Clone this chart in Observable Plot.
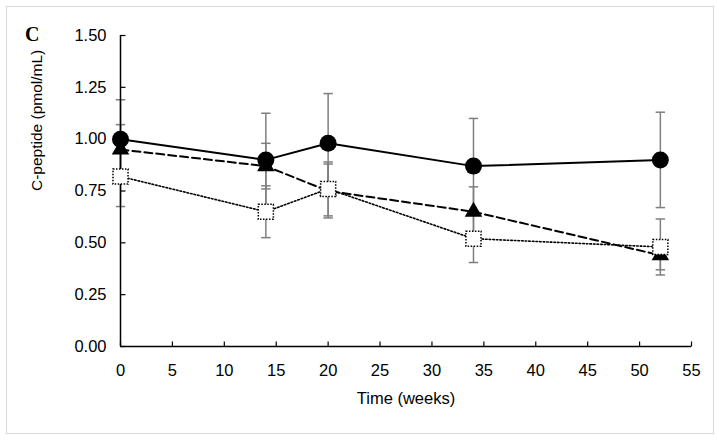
<!DOCTYPE html>
<html>
<head>
<meta charset="utf-8">
<script src="https://cdn.jsdelivr.net/npm/d3@7"></script>
<script src="https://cdn.jsdelivr.net/npm/@observablehq/plot@0.6"></script>
<style>
  html, body { margin: 0; padding: 0; background: #fff; }
  #wrap { position: relative; width: 719px; height: 441px; overflow: hidden; }
  #border { position: absolute; left: 6px; top: 6px; width: 706px; height: 426px; border: 1.5px solid #d9d9d9; box-sizing: content-box; }
  #panel { position: absolute; left: 25px; top: 23px; font-family: "Liberation Serif", "DejaVu Serif", serif; font-weight: bold; font-size: 20px; }
  #chart { position: absolute; left: 0; top: 0; }
</style>
</head>
<body>
<div id="wrap">
  <div id="border"></div>
  <div id="chart"></div>
  <div id="panel">C</div>
</div>
<script>
// ---- data ----
const weeks = [0, 14, 20, 34, 52];
const circleMean = [1.00, 0.90, 0.98, 0.87, 0.90];
const circleErr  = [0.19, 0.225, 0.24, 0.23, 0.23];
const triMean    = [0.95, 0.87, 0.75, 0.65, 0.44];
const triErr     = [0.12, 0.11, 0.13, 0.12, 0.07];
const sqMean     = [0.82, 0.65, 0.76, 0.52, 0.48];
const sqErr      = [0.145, 0.125, 0.13, 0.115, 0.135];
const xTicks = [0, 5, 10, 15, 20, 25, 30, 35, 40, 45, 50, 55];
const yTicks = [0, 0.25, 0.5, 0.75, 1.0, 1.25, 1.5];

const mk = (means, errs, s) => weeks.map((w, i) => ({week: w, mean: means[i], lo: means[i] - errs[i], hi: means[i] + errs[i], s}));
const tri = mk(triMean, triErr, "tri");
const sq = mk(sqMean, sqErr, "sq");
const circ = mk(circleMean, circleErr, "circ");
const all = [...tri, ...sq, ...circ];

// custom symbols (pixel-sized)
const capSymbol = { draw(ctx) { ctx.moveTo(-4.7, 0); ctx.lineTo(4.7, 0); } };
const yTickSymbol = { draw(ctx) { ctx.moveTo(0, 0); ctx.lineTo(5, 0); } };
const xTickSymbol = { draw(ctx) { ctx.moveTo(0, 0); ctx.lineTo(0, -5); } };

const errColor = "#7f7f7f";

const chart = Plot.plot({
  width: 719,
  height: 441,
  marginLeft: 120,
  marginRight: 28,
  marginTop: 35,
  marginBottom: 95,
  style: { fontFamily: "Liberation Sans, Arial, sans-serif", fontSize: "16px", color: "#000", background: "transparent" },
  x: { domain: [0, 55], ticks: xTicks, label: null },
  y: { domain: [0, 1.5], ticks: yTicks, label: null },
  marks: [
    // axes
    Plot.axisY(yTicks, { tickSize: 0, tickPadding: 14, tickFormat: d3.format(".2f"), fontSize: 16.5 }),
    Plot.axisX(xTicks, { tickSize: 0, tickPadding: 18, fontSize: 16.5 }),
    Plot.text(["C-peptide (pmol/mL)"], { frameAnchor: "left", dx: -83, rotate: -90, fontSize: 15.5 }),
    Plot.text(["Time (weeks)"], { frameAnchor: "bottom", dy: 57, fontSize: 16.5 }),
    // error bars
    Plot.link(all, { x1: "week", x2: "week", y1: "lo", y2: "hi", stroke: errColor, strokeWidth: 1.5 }),
    Plot.dot(all, { x: "week", y: "lo", symbol: capSymbol, stroke: errColor, strokeWidth: 1.5, fill: "none" }),
    Plot.dot(all, { x: "week", y: "hi", symbol: capSymbol, stroke: errColor, strokeWidth: 1.5, fill: "none" }),
    // axis lines and inward ticks
    Plot.ruleY([0], { stroke: "#000", strokeWidth: 1.5 }),
    Plot.ruleX([0], { stroke: "#000", strokeWidth: 1.5 }),
    Plot.dot(yTicks, { x: () => 0, y: d => d, symbol: yTickSymbol, stroke: "#000", strokeWidth: 1.2, fill: "none" }),
    Plot.dot(xTicks, { x: d => d, y: () => 0, symbol: xTickSymbol, stroke: "#000", strokeWidth: 1.2, fill: "none" }),
    // lines
    Plot.line(tri, { x: "week", y: "mean", stroke: "#000", strokeWidth: 2, strokeDasharray: "8,4" }),
    Plot.line(sq, { x: "week", y: "mean", stroke: "#000", strokeWidth: 1.6, strokeDasharray: "1.6,2" }),
    Plot.line(circ, { x: "week", y: "mean", stroke: "#000", strokeWidth: 2 }),
    // markers
    Plot.dot(tri, { x: "week", y: "mean", symbol: "triangle", r: 6.5, fill: "#000", stroke: "none" }),
    Plot.dot(sq, { x: "week", y: "mean", symbol: "square", r: 8.5, fill: "#fff", stroke: "#000", strokeWidth: 1.5, strokeDasharray: "1.5,1.5" }),
    Plot.dot(circ, { x: "week", y: "mean", symbol: "circle", r: 8.5, fill: "#000", stroke: "none" })
  ]
});
document.getElementById("chart").appendChild(chart);
</script>
</body>
</html>
